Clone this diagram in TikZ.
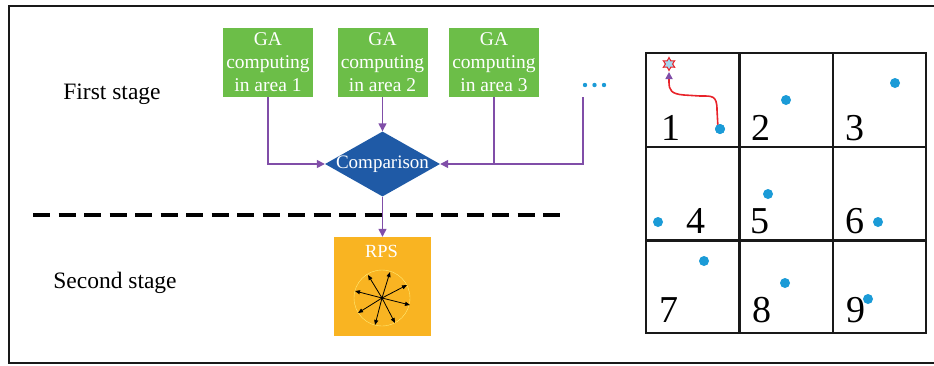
\documentclass[tikz,border=0pt]{standalone}
\usepackage{fontspec}
\setmainfont{Liberation Serif}
\usetikzlibrary{arrows.meta,shapes.geometric}
\definecolor{gagreen}{RGB}{108,190,72}
\definecolor{cmpblue}{RGB}{31,90,166}
\definecolor{rpsorange}{RGB}{249,180,34}
\definecolor{flowpurple}{RGB}{128,78,168}
\definecolor{dotblue}{RGB}{27,155,215}
\definecolor{pathred}{RGB}{232,35,42}
\begin{document}
\begin{tikzpicture}[x=1pt,y=-1pt,
  gabox/.style={fill=gagreen, minimum width=90pt, minimum height=69pt, inner sep=0pt,
    text=white, align=center, font=\fontsize{19.5}{23}\selectfont},
  flow/.style={draw=flowpurple, line width=1.4pt},
  flowarrow/.style={flow, -{Triangle[length=8pt,width=8pt]}},
  stagetext/.style={font=\fontsize{23.5}{26}\selectfont},
  cellnum/.style={anchor=base west, inner sep=0pt, font=\fontsize{38}{40}\selectfont},
  gdot/.style={circle, fill=dotblue, minimum size=10pt, inner sep=0pt},
  rpsarrow/.style={draw=black, line width=0.8pt, -{Triangle[length=5pt,width=4pt]}},
  gridline/.style={line width=2.8pt, draw=black!90}
]
\useasboundingbox (0,0) rectangle (934,365);
% frame
\draw[line width=2pt, draw=black!90] (934,6) -- (9,6) -- (9,363) -- (934,363);

% stage labels
\node[stagetext] (first) at (112,94) {First stage};
\node[stagetext] (second) at (115,283) {Second stage};

% GA boxes
\node[gabox] (ga1) at (268,62.5) {GA\\computing\\in area 1};
\node[gabox] (ga2) at (382.5,62.5) {GA\\computing\\in area 2};
\node[gabox] (ga3) at (494,62.5) {GA\\computing\\in area 3};
\foreach \x in {585,594.5,604} \fill[dotblue] (\x,85) circle (2.2pt);
\coordinate (more) at (583,97);

% comparison diamond
\node[diamond, fill=cmpblue, minimum width=115pt, minimum height=65pt, inner sep=0pt] (cmp) at (382.5,164) {};
\node[text=white, font=\fontsize{19}{20}\selectfont] (cmptext) at (cmp) {Comparison};

% RPS box
\node[fill=rpsorange, minimum width=97pt, minimum height=99pt, inner sep=0pt] (rps) at (382.5,286.5) {};
\node[text=white, font=\fontsize{18.5}{20}\selectfont] (rpstext) at (381.5,251) {RPS};
\coordinate (rc) at (382,298);
\draw[draw=orange!30!yellow!55!white, line width=0.4pt] (rc) circle (28pt);
\foreach \dx/\dy in {-14/-23, 8/-26, 25/-13, -27/-7, 28/7, -24/15, -7/27, 13/25}
  \draw[rpsarrow] (rc) -- ++(\dx,\dy);
\fill (rc) circle (1.3pt);

% flow connectors
\draw[flowarrow] (ga1.south) |- (cmp.west);
\draw[flowarrow] (ga2.south) -- (cmp.north);
\draw[flowarrow] (more) |- (cmp.east);
\draw[flow] (ga3.south) -- (ga3.south |- cmp.east);
\draw[flowarrow] (cmp.south) -- (rps.north);

% dashed separator
\draw[line width=3.5pt, dash pattern=on 17pt off 8.5pt] (33,215) -- (567,215);

% grid
\draw[gridline] (646,53) rectangle (926,333);
\draw[gridline] (739.5,53) -- (739.5,333);
\draw[gridline] (833,53) -- (833,333);
\draw[gridline] (646,147) -- (926,147);
\draw[gridline] (646,240.5) -- (926,240.5);

\node[cellnum] (n1) at (661,140) {1};
\node[cellnum] (n2) at (751,140) {2};
\node[cellnum] (n3) at (845,140) {3};
\node[cellnum] (n4) at (686,233) {4};
\node[cellnum] (n5) at (750,233) {5};
\node[cellnum] (n6) at (845,233) {6};
\node[cellnum] (n7) at (659,322) {7};
\node[cellnum] (n8) at (752,322) {8};
\node[cellnum] (n9) at (846,322) {9};

\node[gdot] (d1) at (720,129) {};
\node[gdot] (d2) at (786,100) {};
\node[gdot] (d3) at (895,83) {};
\node[gdot] (d4) at (658,222) {};
\node[gdot] (d5) at (768,194) {};
\node[gdot] (d6) at (878,222) {};
\node[gdot] (d7) at (704,261) {};
\node[gdot] (d8) at (785,283) {};
\node[gdot] (d9) at (868,299) {};

% start star and path
\node[star, star points=6, star point ratio=1.8, minimum size=13pt, inner sep=0pt,
      draw=pathred, fill=dotblue!40!white, line width=1pt] (goal) at (669,64) {};
\coordinate (tip) at (669,72);
\draw[pathred, line width=1.6pt, line cap=round, -{Triangle[length=7pt,width=7pt,color=flowpurple,fill=flowpurple]}]
  (d1.115) -- (717,110) .. controls (717,95) and (712,96) .. (700,96)
  -- (684,95) .. controls (671,94) and (669,90) .. (669,82) -- (tip);
\node[gdot] at (d1) {};
\end{tikzpicture}
\end{document}
